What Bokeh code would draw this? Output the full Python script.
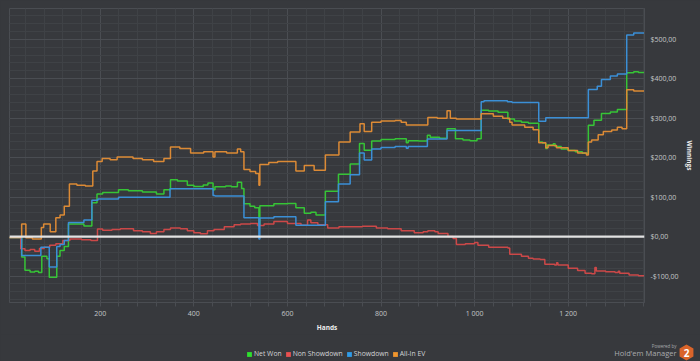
import math
from bokeh.plotting import figure
from bokeh.layouts import column
from bokeh.models import (FixedTicker, Range1d, Span, Legend, LegendItem, Label,
                          PolyAnnotation, GlobalInlineStyleSheet)
from bokeh.embed import file_html
from bokeh.resources import INLINE

# ---------------- data ----------------
net_won_hands = [1, 32, 39, 50, 60, 68, 75, 86, 91, 107, 114, 123, 132, 165, 182, 193, 205, 239, 260,
                 290, 320, 336, 350, 365, 386, 400, 420, 430, 441, 445, 468, 480, 493, 502, 507, 520,
                 530, 539, 541, 571, 600, 618, 636, 650, 661, 681, 709, 734, 754, 764, 780, 800, 830,
                 854, 858, 880, 899, 905, 925, 941, 959, 975, 990, 1005, 1014, 1030, 1050, 1071, 1085,
                 1100, 1115, 1137, 1145, 1152, 1155, 1168, 1172, 1185, 1200, 1215, 1230, 1243, 1255,
                 1271, 1290, 1305, 1325, 1340, 1350, 1362]
net_won = [-2, -52, -85, -90, -88, -91, -50, -56, -103, -50, -35, -25, 32, 27, 86, 108, 112, 119, 116,
           113, 108, 119, 144, 141, 130, 127, 131, 136, 119, 126, 128, 126, 138, 122, 83, 77,
           73, 27, 78, 83, 84, 73, 59, 62, 55, 115, 158, 184, 236, 219, 242, 246, 248,
           238, 243, 242, 257, 252, 249, 273, 248, 245, 243, 248, 320, 318, 315, 298, 293,
           290, 287, 240, 237, 223, 232, 235, 228, 222, 218, 215, 211, 282, 295,
           312, 316, 322, 415, 418, 416, 415]

non_showdown_hands = [1, 30, 39, 50, 60, 70, 80, 92, 105, 120, 135, 160, 180, 194, 205, 225, 243, 271,
                      290, 307, 320, 336, 350, 371, 386, 400, 414, 429, 443, 465, 486, 500, 521, 536,
                      550, 571, 600, 629, 643, 650, 665, 686, 710, 736, 760, 790, 814, 843, 871, 890,
                      900, 915, 922, 943, 954, 961, 980, 1000, 1007, 1030, 1071, 1075, 1100, 1115,
                      1125, 1140, 1150, 1171, 1175, 1178, 1200, 1220, 1236, 1250, 1257, 1260, 1280,
                      1300, 1307, 1310, 1330, 1350, 1362]
non_showdown = [-2, -31, -35, -33, -37, -30, -27, -22, -18, -10, -6, -8, -10, 19, 16, 18, 20, 15,
                12, 8, 12, 18, 22, 20, 15, 10, 7, 15, 18, 25, 30, 32, 33, 28,
                32, 38, 33, 29, 42, 35, 30, 22, 25, 25, 26, 22, 20, 15, 10, 12,
                15, 12, 8, 0, -5, -20, -18, -15, -22, -27, -29, -45, -50, -55,
                -57, -58, -70, -72, -66, -72, -80, -86, -93, -94, -78, -87, -89,
                -91, -88, -93, -97, -99, -101]

showdown_hands = [1, 32, 73, 91, 107, 114, 123, 132, 165, 182, 195, 239, 349, 441, 445, 507, 539, 541,
                  571, 618, 681, 709, 734, 754, 764, 780, 800, 830, 854, 858, 899, 941, 1014, 1020,
                  1070, 1080, 1137, 1152, 1243, 1262, 1271, 1290, 1305, 1325, 1340, 1362]
showdown = [-2, -48, -27, -77, -25, -20, -10, 36, 42, 92, 95, 100, 121, 104, 103, 48, -6, 47,
            50, 29, 88, 133, 157, 212, 194, 222, 226, 228, 224, 228, 247, 269, 342, 344,
            342, 340, 292, 301, 373, 381, 398, 407, 412, 511, 516, 517]

all_in_ev_hands = [1, 32, 41, 55, 74, 79, 93, 105, 114, 123, 134, 150, 168, 184, 193, 204, 221, 236, 270,
                   290, 314, 336, 350, 370, 393, 421, 441, 445, 470, 493, 500, 507, 520, 532, 539, 541,
                   560, 579, 618, 636, 657, 681, 710, 734, 755, 764, 780, 800, 830, 843, 854, 900,
                   920, 941, 948, 961, 1000, 1014, 1040, 1060, 1075, 1080, 1107, 1125, 1137, 1152,
                   1157, 1175, 1200, 1220, 1239, 1243, 1250, 1264, 1275, 1293, 1305, 1315, 1325,
                   1340, 1362]
all_in_ev = [-2, 32, -3, -6, 23, 32, 12, 48, 55, 77, 133, 130, 128, 166, 190, 198, 195, 202, 198,
             195, 190, 198, 227, 223, 212, 215, 202, 215, 212, 222, 215, 170, 165, 160, 130, 183,
             188, 190, 166, 180, 168, 207, 240, 265, 286, 266, 290, 293, 294, 290, 283, 302,
             300, 319, 300, 298, 298, 311, 305, 300, 290, 283, 277, 271, 238, 225,
             231, 225, 218, 212, 207, 240, 245, 258, 266, 270, 277, 273, 372,
             369, 371]

series_names = ["Net Won", "Non Showdown", "Showdown", "All-In EV"]
line_colors = ["#36c436", "#cc4848", "#3b8fd6", "#dc8a35"]
legend_colors = ["#2ee02e", "#e85050", "#2f9be8", "#f0962e"]

x_ticks = [200, 400, 600, 800, 1000, 1200]
x_tick_labels = ["200", "400", "600", "800", "1 000", "1 200"]
y_ticks = [-100, 0, 100, 200, 300, 400, 500]
y_tick_labels = ["-$100,00", "$0,00", "$100,00", "$200,00", "$300,00", "$400,00", "$500,00"]

# ---------------- style ----------------
BG = "#37393d"
GRID = "#4a4d52"
MINOR = "#3f4246"
FONT = "Open Sans"

p = figure(width=700, height=334, output_backend="svg", toolbar_location=None,
           x_range=Range1d(6, 1363), y_range=Range1d(-167, 578), y_axis_location="right",
           min_border_left=9, min_border_right=56, min_border_top=8, min_border_bottom=28,
           background_fill_color=BG, border_fill_color=BG, outline_line_color=GRID,
           stylesheets=[GlobalInlineStyleSheet(css="body{background-color:#37393d;}")])

# grids
for g in (p.xgrid[0], p.ygrid[0]):
    g.grid_line_color = GRID
    g.grid_line_width = 1
    g.minor_grid_line_color = MINOR
    g.minor_grid_line_width = 1

xa = p.xaxis[0]
xa.ticker = FixedTicker(ticks=x_ticks, minor_ticks=list(range(40, 1363, 40)))
xa.major_label_overrides = {t: s for t, s in zip(x_ticks, x_tick_labels)}
xa.axis_line_color = GRID
xa.major_tick_line_color = GRID
xa.minor_tick_line_color = GRID
xa.major_tick_out = 1
xa.major_tick_in = 0
xa.minor_tick_out = 4
xa.minor_tick_in = 0
xa.major_label_standoff = 2
xa.major_label_text_font = FONT
xa.major_label_text_font_size = "7px"
xa.major_label_text_color = "#c4c6c8"
xa.axis_label = "Hands"
xa.axis_label_text_font = FONT
xa.axis_label_text_font_size = "6.5px"
xa.axis_label_text_font_style = "bold"
xa.axis_label_text_color = "#eeeeee"
xa.axis_label_standoff = 2

ya = p.yaxis[0]
ya.ticker = FixedTicker(ticks=y_ticks, minor_ticks=list(range(-160, 578, 20)))
ya.major_label_overrides = {t: s for t, s in zip(y_ticks, y_tick_labels)}
ya.axis_line_color = GRID
ya.major_tick_line_color = GRID
ya.minor_tick_line_color = None
ya.major_tick_out = 0
ya.major_tick_in = 0
ya.minor_tick_out = 0
ya.minor_tick_in = 0
ya.major_label_standoff = 6
ya.major_label_text_font = FONT
ya.major_label_text_font_size = "7px"
ya.major_label_text_color = "#c4c6c8"
ya.axis_label = "Winnings"
ya.axis_label_orientation = "parallel"
ya.axis_label_text_font = FONT
ya.axis_label_text_font_size = "6.5px"
ya.axis_label_text_font_style = "bold"
ya.axis_label_text_color = "#eeeeee"
ya.axis_label_standoff = 3

# series lines
all_series = [(net_won_hands, net_won), (non_showdown_hands, non_showdown),
              (showdown_hands, showdown), (all_in_ev_hands, all_in_ev)]
for (hx, hy), col in zip(all_series, line_colors):
    p.step(hx, hy, mode="after", line_color=col, line_width=1.5)

# zero line
p.add_layout(Span(location=0, dimension="width", line_color="#e2e2e2", line_width=2.2))

# ---------------- bottom strip: legend + credits ----------------
s = figure(width=700, height=27, output_backend="svg", toolbar_location=None,
           x_range=Range1d(0, 700), y_range=Range1d(0, 27),
           x_axis_type=None, y_axis_type=None,
           min_border_left=0, min_border_right=0, min_border_top=0, min_border_bottom=0,
           background_fill_color=BG, border_fill_color=BG, outline_line_color=None)
s.grid.visible = False

for fig in (p, s):
    try:
        fig.frame_align = False
    except Exception:
        pass

items = []
for name, col in zip(series_names, legend_colors):
    # zero-area proxy glyph: only its legend swatch is seen
    r = s.quad(left=[0], right=[0], top=[0], bottom=[0], fill_color=col, line_color=None)
    items.append(LegendItem(label=name, renderers=[r]))
legend = Legend(items=items, orientation="horizontal", location=(246, 3),
                label_text_font=FONT, label_text_font_size="6.8px", label_text_color="#d2d3d5",
                glyph_width=6, glyph_height=6, label_standoff=2, spacing=3, padding=0, margin=0,
                label_height=9, background_fill_alpha=0, border_line_alpha=0,
                inactive_fill_alpha=0)
s.add_layout(legend)

s.add_layout(Label(x=676, y=16, x_units="screen", y_units="screen", text="Powered by",
                   text_align="right", text_baseline="middle", text_font=FONT,
                   text_font_size="4.5px", text_color="#a9abad"))
s.add_layout(Label(x=676, y=8.5, x_units="screen", y_units="screen", text="Hold'em Manager",
                   text_align="right", text_baseline="middle", text_font=FONT,
                   text_font_size="7.5px", text_color="#a9abad"))
cx, cy, rad = 686, 9, 8
hx_pts = [cx + rad * math.cos(math.radians(90 + 60 * k)) for k in range(6)]
hy_pts = [cy + rad * math.sin(math.radians(90 + 60 * k)) for k in range(6)]
s.add_layout(PolyAnnotation(xs=hx_pts, ys=hy_pts, xs_units="screen", ys_units="screen",
                            fill_color="#d9642a", fill_alpha=1, line_color=None))
s.add_layout(Label(x=cx, y=cy, x_units="screen", y_units="screen", text="2",
                   text_align="center", text_baseline="middle", text_font=FONT,
                   text_font_size="10px", text_font_style="bold", text_color="#ffffff"))

layout = column(p, s, spacing=0)
open("out.html", "w").write(file_html(layout, INLINE))
